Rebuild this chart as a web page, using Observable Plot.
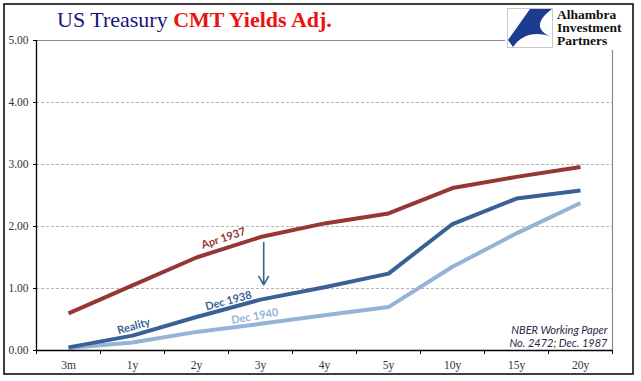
<!DOCTYPE html>
<html>
<head>
<meta charset="utf-8">
<script src="https://cdn.jsdelivr.net/npm/d3@7"></script>
<script src="https://cdn.jsdelivr.net/npm/@observablehq/plot@0.6"></script>
<style>
  html, body { margin: 0; padding: 0; background: #fff; overflow: hidden; }
  #chart svg { display: block; }
</style>
</head>
<body>
<div id="chart"></div>
<script>
const categories = ["3m", "1y", "2y", "3y", "4y", "5y", "10y", "15y", "20y"];
const apr1937 = [0.60, 1.05, 1.50, 1.83, 2.05, 2.21, 2.62, 2.80, 2.96];
const dec1938 = [0.05, 0.24, 0.54, 0.82, 1.02, 1.24, 2.04, 2.45, 2.58];
const dec1940 = [0.04, 0.13, 0.30, 0.43, 0.57, 0.70, 1.35, 1.89, 2.38];
const yTicks = [0, 1, 2, 3, 4, 5];

const seriesDefs = [
  { name: "Dec 1940", values: dec1940, color: "#95b3d7" },
  { name: "Dec 1938", values: dec1938, color: "#3a6196" },
  { name: "Apr 1937", values: apr1937, color: "#953735" }
];
const rows = seriesDefs.flatMap(s => s.values.map((v, i) => ({ series: s.name, i, v })));

const annotations = [
  { text: "Apr 1937", i: 2.42, v: 1.81, rotate: -18, color: "#953735" },
  { text: "Dec 1938", i: 2.50, v: 0.80, rotate: -15, color: "#3a6196" },
  { text: "Reality", i: 1.02, v: 0.39, rotate: -16, color: "#3a6196" },
  { text: "Dec 1940", i: 2.91, v: 0.55, rotate: -10, color: "#95b3d7" }
];

const boundaries = d3.range(categories.length + 1).map(k => k - 0.5);
const sans = "Lato, 'Noto Sans', sans-serif";
const serif = "'Liberation Serif', 'DejaVu Serif', serif";

const plot = Plot.plot({
  width: 641,
  height: 381,
  marginLeft: 36,
  marginRight: 29,
  marginTop: 40,
  marginBottom: 31,
  style: { fontFamily: serif, color: "black", background: "white" },
  x: { type: "linear", domain: [-0.5, categories.length - 0.5], axis: null, label: null },
  y: { domain: [0, 5], axis: null, label: null },
  marks: [
    Plot.ruleY(yTicks.filter(t => t > 0 && t < 5), { stroke: "#b5b5b5", strokeDasharray: "3,2" }),
    Plot.ruleY([5], { stroke: "#8c8c8c", strokeWidth: 1.2 }),
    Plot.ruleX([categories.length - 0.5], { stroke: "#8c8c8c", strokeWidth: 1.2 }),
    ...seriesDefs.map(s =>
      Plot.line(rows.filter(r => r.series === s.name), {
        x: "i", y: "v", stroke: s.color, strokeWidth: 4, strokeLinejoin: "round", strokeLinecap: "butt", curve: "linear"
      })
    ),
    Plot.ruleX([-0.5], { stroke: "black", strokeWidth: 1.3 }),
    Plot.ruleY([0], { stroke: "black", strokeWidth: 1.3 }),
    Plot.axisY(yTicks, {
      label: null, tickSize: 3, tickPadding: 5, tickFormat: d => d.toFixed(2),
      fontSize: 11.5, fontFamily: serif, fill: "#333", stroke: "black"
    }),
    Plot.axisX(boundaries, { label: null, tickSize: 4, tickFormat: () => "", stroke: "black" }),
    Plot.axisX(d3.range(categories.length), {
      label: null, tickSize: 0, tickPadding: 10, tickFormat: k => categories[k],
      fontSize: 11.5, fontFamily: serif, fill: "#333"
    }),
    ...annotations.map(a =>
      Plot.text([a], {
        x: "i", y: "v", text: "text", rotate: a.rotate, fill: a.color,
        fontFamily: sans, fontWeight: "bold", fontSize: 11
      })
    ),
    Plot.arrow([{ i: 3.05, v1: 1.74, v2: 1.06 }], {
      x1: "i", x2: "i", y1: "v1", y2: "v2", stroke: "#3a6196", strokeWidth: 1.6, headLength: 9
    }),
    Plot.text(["NBER Working Paper\nNo. 2472; Dec. 1987"], {
      frameAnchor: "bottom-right", textAnchor: "end", lineAnchor: "bottom",
      dx: -5, dy: -4, lineHeight: 1.15, fill: "#1f2a44",
      fontFamily: sans, fontStyle: "italic", fontSize: 11
    })
  ]
});

const svg = d3.select(plot);

// Logo area (white backdrop interrupting frame corner)
svg.append("rect").attr("x", 505).attr("y", 6).attr("width", 126).attr("height", 44).attr("fill", "white");
const logo = svg.append("g");
logo.append("rect").attr("x", 507.5).attr("y", 8.5).attr("width", 45).attr("height", 39)
  .attr("fill", "white").attr("stroke", "#c8c8c8");
logo.append("path")
  .attr("d", "M552,9 L530,9 L508,40 L513,47 C522,34 536,31 552,37 C538,32 534,22 552,9 Z")
  .attr("fill", "#1d3c8f");
const ltxt = logo.append("text").attr("font-family", serif).attr("font-weight", "bold")
  .attr("font-size", 13.5).attr("fill", "#111").attr("text-anchor", "start");
[["Alhambra", 19], ["Investment", 32], ["Partners", 45]].forEach(([t, y]) =>
  ltxt.append("tspan").attr("x", 557).attr("y", y).attr("text-anchor", "start").text(t));

// Title
const title = svg.append("text").attr("x", 57).attr("y", 27).attr("font-family", serif)
  .attr("font-size", 22).attr("text-anchor", "start");
title.append("tspan").attr("fill", "#15157f").text("US Treasury ");
title.append("tspan").attr("fill", "#ee1111").attr("font-weight", "bold").text("CMT Yields Adj.");

// Outer border
svg.append("rect").attr("x", 4).attr("y", 4).attr("width", 629).attr("height", 370)
  .attr("fill", "none").attr("stroke", "black").attr("stroke-width", 1.5);

document.getElementById("chart").appendChild(plot);
</script>
</body>
</html>
